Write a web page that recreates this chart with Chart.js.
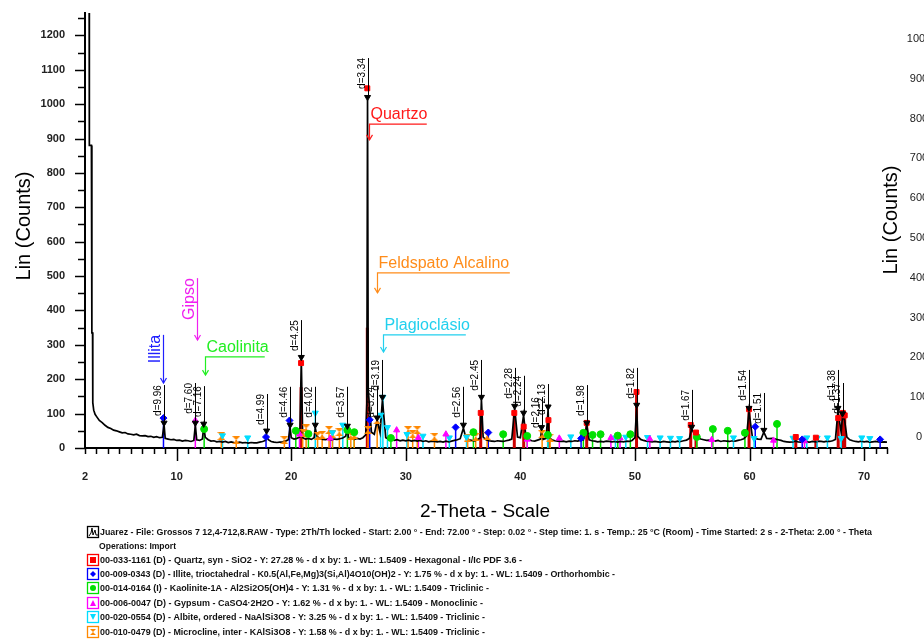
<!DOCTYPE html>
<html>
<head>
<meta charset="utf-8">
<title>DRX - Juarez</title>
<script src="https://cdn.jsdelivr.net/npm/chart.js@4.4.1/dist/chart.umd.min.js"></script>
<style>
  html, body { margin: 0; padding: 0; background: #fff; }
  #wrap { width: 924px; height: 640px; }
</style>
</head>
<body>
<div id="wrap"><canvas id="drx" width="924" height="640"></canvas></div>
<script>
const xTicks = [2, 10, 20, 30, 40, 50, 60, 70];
const rightTicks = [0, 100, 200, 300, 400, 500, 600, 700, 800, 900, 1000];

// feixe direto no início (sai do gráfico)
const spikeX = [2.0, 2.36, 2.38, 2.56, 2.6, 2.66, 2.68, 2.76, 2.88];
const spikeY = [1400, 1400, 880, 880, 335, 335, 132, 110, 98];

// fundo de 3.00 a 72.00 graus, passo 0.25
const bgStart = 3.0;
const bgStep = 0.25;
const bgCounts = [
  92, 80, 74, 66,   60, 57, 52, 50,   47, 44, 45, 41,   40, 38, 40, 36,
  35, 36, 33, 34,   31, 33, 30, 31,   28, 26, 24, 25,   22, 23, 20, 22,
  21, 19, 22, 24,   22, 26, 31, 24,   20, 21, 18, 19,   17, 19, 16, 18,
  16, 15, 17, 15,   16, 14, 16, 15,   15, 17, 19, 22,   24, 19, 17, 16,
  17, 18, 20, 24,   30, 26, 28, 32,   30, 26, 28, 25,   30, 34, 27, 25,
  24, 27, 23, 26,   25, 27, 29, 34,   30, 27, 25, 28,   26, 30, 38, 48,
  46, 40, 52, 45,   38, 30, 26, 24,   22, 24, 21, 23,   21, 23, 20, 22,
  20, 22, 19, 21,   18, 20, 19, 18,   19, 17, 20, 18,   20, 22, 24, 27,
  30, 28, 24, 22,   21, 24, 30, 32,   24, 21, 20, 19,   21, 20, 19, 21,
  23, 26, 30, 32,   30, 34, 28, 24,   21, 20, 23, 26,   25, 28, 30, 24,
  21, 20, 19, 20,   18, 20, 19, 21,   20, 22, 24, 28,   24, 21, 20, 18,
  19, 18, 20, 19,   18, 19, 17, 19,   18, 20, 19, 22,   30, 34, 25, 22,
  20, 19, 18, 19,   18, 17, 19, 18,   17, 19, 18, 20,   19, 21, 23, 28,
  32, 36, 30, 26,   24, 22, 23, 21,   20, 22, 19, 21,   20, 19, 21, 20,
  22, 24, 27, 35,   40, 32, 28, 26,   25, 30, 28, 27,   28, 26, 24, 22,
  19, 18, 17, 18,   20, 18, 17, 19,   18, 17, 19, 18,   20, 19, 18, 20,
  19, 21, 25, 35,   45, 50, 32, 24,   21, 19, 18, 20,   18, 19, 17, 18,
  19, 18, 17, 18,   17
];

// picos do difratograma
const peakX = [8.9, 11.63, 12.36, 17.85, 19.9, 20.88, 22.1, 24.9, 26.6, 26.66, 26.72, 27.5, 27.96,
  35.03, 36.6, 39.5, 40.28, 41.85, 42.42, 45.8, 50.15, 54.95, 55.33, 59.95, 61.25, 67.72, 68.12, 68.3];
const peakY = [68, 67, 62, 33, 60, 256, 58, 57, 130, 1012, 170, 80, 140,
  58, 140, 115, 95, 52, 112, 66, 118, 56, 42, 108, 46, 108, 95, 80];

// rótulos d
const dPos = [8.9, 11.63, 12.36, 17.85, 19.9, 20.88, 22.1, 24.9, 26.66, 27.5, 27.96, 35.03, 36.6,
  39.5, 40.28, 41.85, 42.42, 45.8, 50.15, 54.95, 59.95, 61.25, 67.72, 68.12];
const dText = ['d=9.96', 'd=7.60', 'd=7.16', 'd=4.99', 'd=4.46', 'd=4.25', 'd=4.02', 'd=3.57', 'd=3.34',
  'd=3.24', 'd=3.19', 'd=2.56', 'd=2.45', 'd=2.28', 'd=2.24', 'd=2.16', 'd=2.13', 'd=1.98', 'd=1.82',
  'd=1.67', 'd=1.54', 'd=1.51', 'd=1.38', 'd=1.37'];
const dPeak = [73, 73, 70, 50, 67, 264, 67, 64, 1020, 88, 148, 67, 148, 122, 102, 60, 120, 73, 125, 61, 116, 52, 116, 100];
const dTop = [183, 189, 180, 157, 178, 372, 178, 178, 1134, 178, 256, 178, 256, 233, 210, 148, 186, 183, 233, 169, 227, 160, 227, 189];

// fichas PDF (posição 2θ e altura)
const quartzPos = [20.86, 26.64, 36.54, 39.47, 40.29, 42.45, 45.79, 50.14, 54.87, 55.33, 59.96, 64.04, 65.79, 67.74, 68.14, 68.31];
const quartzInt = [247, 1046, 102, 102, 62, 81, 73, 163, 67, 45, 113, 32, 30, 87, 102, 95];
const quartzBar = [177, 350, 102, 102, 62, 81, 73, 163, 67, 45, 113, 32, 30, 87, 102, 95];

const illitePos = [8.85, 17.8, 19.85, 26.85, 34.35, 37.2, 45.3, 60.5, 64.6, 71.4];
const illiteInt = [87, 32, 80, 82, 60, 45, 28, 62, 25, 25];

const kaolPos = [12.4, 20.4, 21.5, 24.9, 25.5, 28.7, 35.9, 38.5, 40.6, 42.4, 45.5, 46.3, 47.0, 48.5, 49.6, 55.4, 56.8, 58.1, 59.6, 62.4];
const kaolInt = [55, 50, 41, 52, 46, 29, 46, 40, 35, 38, 44, 38, 40, 36, 40, 32, 55, 50, 44, 70];

const gypsPos = [11.63, 20.72, 23.4, 29.2, 31.1, 33.5, 40.6, 43.4, 47.9, 48.7, 51.3, 56.7, 62.1, 64.8];
const gypsInt = [80, 40, 28, 52, 30, 40, 25, 28, 30, 29, 26, 24, 22, 20];

const albitePos = [14.0, 16.2, 22.1, 23.6, 24.5, 27.8, 28.0, 28.4, 30.1, 31.5, 33.8, 35.3, 42.4, 44.4, 48.3, 49.2,
  51.1, 52.2, 53.1, 53.9, 58.6, 60.4, 63.8, 65.0, 65.9, 66.8, 68.0, 69.8, 70.5];
const albiteInt = [36, 30, 102, 45, 67, 96, 148, 60, 40, 35, 30, 32, 35, 33, 30, 32,
  31, 30, 29, 28, 30, 28, 29, 30, 29, 30, 28, 30, 28];

const microPos = [13.9, 15.2, 19.4, 21.0, 21.3, 22.3, 22.7, 23.3, 23.6, 24.2, 25.2, 25.5, 26.7, 27.5, 30.2, 30.6, 31.0,
  32.5, 35.4, 36.1, 37.1, 41.9, 42.6];
const microInt = [35, 23, 23, 45, 57, 35, 38, 52, 40, 46, 35, 38, 52, 81, 52, 40, 52, 32, 30, 32, 35, 40, 30];

// nomes das fases com setas
const labelText = ['Quartzo', 'Feldspato Alcalino', 'Plagioclásio', 'Caolinita', 'Gipso', 'Illita'];
const labelX = [26.77, 27.47, 27.99, 12.45, 11.75, 8.82];
const labelEndX = [31.83, 39.08, 35.24, 17.69, null, null];
const labelY = [942, 509, 329, 265, 494, 329];
const labelTip = [896, 451, 279, 212, 314, 189];

const legendLines = [
  'Juarez - File: Grossos 7 12,4-712,8.RAW - Type: 2Th/Th locked - Start: 2.00 ° - End: 72.00 ° - Step: 0.02 ° - Step time: 1. s - Temp.: 25 °C (Room) - Time Started: 2 s - 2-Theta: 2.00 ° - Theta',
  'Operations: Import',
  '00-033-1161 (D) - Quartz, syn - SiO2 - Y: 27.28 % - d x by: 1. - WL: 1.5409 - Hexagonal - I/Ic PDF 3.6 -',
  '00-009-0343 (D) - Illite, trioctahedral - K0.5(Al,Fe,Mg)3(Si,Al)4O10(OH)2 - Y: 1.75 % - d x by: 1. - WL: 1.5409 - Orthorhombic -',
  '00-014-0164 (I) - Kaolinite-1A - Al2Si2O5(OH)4 - Y: 1.31 % - d x by: 1. - WL: 1.5409 - Triclinic -',
  '00-006-0047 (D) - Gypsum - CaSO4·2H2O - Y: 1.62 % - d x by: 1. - WL: 1.5409 - Monoclinic -',
  '00-020-0554 (D) - Albite, ordered - NaAlSi3O8 - Y: 3.25 % - d x by: 1. - WL: 1.5409 - Triclinic -',
  '00-010-0479 (D) - Microcline, inter - KAlSi3O8 - Y: 1.58 % - d x by: 1. - WL: 1.5409 - Triclinic -'
];

// ---- estilos ----
const FONT = "'Liberation Sans', Arial, sans-serif";
const labelColors = ['#ff1a1a', '#ff8c1a', '#22d0ee', '#22ee22', '#f020f0', '#2020ff'];
const legendWidths = [772, 77, 422, 515, 389, 383, 385, 385];
const legendRowY = [532, 546, 560, 574, 588, 603, 617, 632];
const legendIcons = ['scan', null, 'rect', 'rectRot', 'circle', 'triangle', 'triangleDown', 'hourglass'];
const legendIconColors = ['#000', null, '#ff0000', '#0000ff', '#00e000', '#ff00ff', '#00ddff', '#ff8800'];

function hourglassImage(color) {
  const c = document.createElement('canvas');
  c.width = 8; c.height = 8;
  const g = c.getContext('2d');
  g.fillStyle = color;
  g.beginPath(); g.moveTo(0, 0); g.lineTo(8, 0); g.lineTo(4, 4); g.closePath(); g.fill();
  g.beginPath(); g.moveTo(0, 8); g.lineTo(8, 8); g.lineTo(4, 4); g.closePath(); g.fill();
  return c;
}

const phases = [
  { pos: quartzPos, top: quartzInt, bar: quartzBar, color: '#ff0000', stem: '#cc0000', stemWidth: 3, style: 'rect', rot: 0, r: 3.5 },
  { pos: illitePos, top: illiteInt, bar: illiteInt, color: '#0000ff', stem: '#0000ff', stemWidth: 1.5, style: 'rectRot', rot: 0, r: 3.5 },
  { pos: kaolPos, top: kaolInt, bar: kaolInt, color: '#00e000', stem: '#00e000', stemWidth: 1.5, style: 'circle', rot: 0, r: 3.5 },
  { pos: gypsPos, top: gypsInt, bar: gypsInt, color: '#ff00ff', stem: '#ff00ff', stemWidth: 1.5, style: 'triangle', rot: 0, r: 3.5 },
  { pos: albitePos, top: albiteInt, bar: albiteInt, color: '#00ddff', stem: '#00ddff', stemWidth: 1.5, style: 'triangle', rot: 180, r: 3.5 },
  { pos: microPos, top: microInt, bar: microInt, color: '#ff8800', stem: '#ff8800', stemWidth: 1.5, style: hourglassImage('#ff8800'), rot: 0, r: 4 }
];

// ---- monta a curva ----
const patternPoints = [];
spikeX.forEach((v, i) => patternPoints.push({ x: v, y: spikeY[i] }));
bgCounts.forEach((c, i) => {
  const xv = bgStart + i * bgStep;
  if (!peakX.some(p => Math.abs(p - xv) < 0.06)) patternPoints.push({ x: xv, y: c });
});
peakX.forEach((v, i) => patternPoints.push({ x: v, y: peakY[i] }));
patternPoints.sort((a, b) => a.x - b.x);

const datasets = [{
  label: 'Juarez',
  data: patternPoints,
  showLine: true,
  borderColor: '#000',
  borderWidth: 1.7,
  pointRadius: 0,
  tension: 0,
  order: 10
}];
phases.forEach((ph, k) => {
  datasets.push({
    label: 'fase' + k,
    data: ph.pos.map((p, i) => ({ x: p, y: ph.top[i] })),
    pointStyle: ph.style,
    rotation: ph.rot,
    pointRadius: ph.r,
    backgroundColor: ph.color,
    borderColor: ph.color,
    borderWidth: 1,
    order: 2
  });
});
datasets.push({
  label: 'd',
  data: dPos.map((p, i) => ({ x: p, y: dPeak[i] })),
  pointStyle: 'triangle',
  rotation: 180,
  pointRadius: 3.5,
  backgroundColor: '#000',
  borderColor: '#000',
  order: 1
});

function drawMarker(ctx, kind, cx, cy, r, color) {
  ctx.fillStyle = color;
  ctx.strokeStyle = color;
  ctx.beginPath();
  if (kind === 'rect') ctx.rect(cx - r, cy - r, 2 * r, 2 * r);
  else if (kind === 'rectRot') { ctx.moveTo(cx, cy - r); ctx.lineTo(cx + r, cy); ctx.lineTo(cx, cy + r); ctx.lineTo(cx - r, cy); }
  else if (kind === 'circle') ctx.arc(cx, cy, r, 0, Math.PI * 2);
  else if (kind === 'triangle') { ctx.moveTo(cx, cy - r); ctx.lineTo(cx + r, cy + r); ctx.lineTo(cx - r, cy + r); }
  else if (kind === 'triangleDown') { ctx.moveTo(cx - r, cy - r); ctx.lineTo(cx + r, cy - r); ctx.lineTo(cx, cy + r); }
  else if (kind === 'hourglass') {
    ctx.moveTo(cx - r, cy - r); ctx.lineTo(cx + r, cy - r); ctx.lineTo(cx, cy); ctx.closePath();
    ctx.moveTo(cx - r, cy + r); ctx.lineTo(cx + r, cy + r); ctx.lineTo(cx, cy);
  }
  ctx.closePath();
  ctx.fill();
}

function arrowHead(ctx, x, y) {
  ctx.beginPath();
  ctx.moveTo(x - 3, y - 5); ctx.lineTo(x, y); ctx.lineTo(x + 3, y - 5);
  ctx.stroke();
}

const drxPlugin = {
  id: 'drx',
  beforeDatasetsDraw(chart) {
    const { ctx, chartArea: a, scales: { x, y } } = chart;
    ctx.save();
    ctx.beginPath();
    ctx.rect(a.left, a.top, a.right - a.left, a.bottom - a.top);
    ctx.clip();
    phases.forEach(ph => {
      ctx.strokeStyle = ph.stem;
      ctx.lineWidth = ph.stemWidth;
      ph.pos.forEach((p, i) => {
        const px = x.getPixelForValue(p);
        ctx.beginPath();
        ctx.moveTo(px, y.getPixelForValue(0));
        ctx.lineTo(px, y.getPixelForValue(ph.bar[i]));
        ctx.stroke();
      });
    });
    ctx.restore();
  },
  afterDatasetsDraw(chart) {
    const { ctx, scales: { x, y } } = chart;
    ctx.save();
    // linhas e textos d=
    ctx.strokeStyle = '#000';
    ctx.fillStyle = '#000';
    ctx.lineWidth = 1;
    ctx.font = '10px ' + FONT;
    dPos.forEach((p, i) => {
      const px = Math.round(x.getPixelForValue(p)) + 0.5;
      const top = y.getPixelForValue(dTop[i]);
      ctx.beginPath();
      ctx.moveTo(px, y.getPixelForValue(dPeak[i]));
      ctx.lineTo(px, top);
      ctx.stroke();
      ctx.save();
      ctx.translate(px - 1.5, top);
      ctx.rotate(-Math.PI / 2);
      ctx.textAlign = 'right';
      ctx.textBaseline = 'bottom';
      ctx.fillText(dText[i], 0, 0);
      ctx.restore();
    });
    // nomes das fases
    ctx.font = '16px ' + FONT;
    ctx.lineWidth = 1.2;
    labelText.forEach((t, i) => {
      const col = labelColors[i];
      ctx.strokeStyle = col;
      ctx.fillStyle = col;
      const px = Math.round(x.getPixelForValue(labelX[i])) + 0.5;
      const py = y.getPixelForValue(labelY[i]);
      const tip = y.getPixelForValue(labelTip[i]);
      if (labelEndX[i] !== null) {
        const ex = x.getPixelForValue(labelEndX[i]);
        ctx.textAlign = 'left';
        ctx.textBaseline = 'alphabetic';
        ctx.fillText(t, px + 1, py - 5);
        ctx.beginPath();
        ctx.moveTo(ex, py); ctx.lineTo(px, py); ctx.lineTo(px, tip);
        ctx.stroke();
      } else {
        ctx.save();
        ctx.translate(px - 4, py);
        ctx.rotate(-Math.PI / 2);
        ctx.textAlign = 'right';
        ctx.textBaseline = 'alphabetic';
        ctx.fillText(t, 0, 0);
        ctx.restore();
        ctx.beginPath();
        ctx.moveTo(px, py); ctx.lineTo(px, tip);
        ctx.stroke();
      }
      arrowHead(ctx, px, tip);
    });
    ctx.restore();
  },
  afterDraw(chart) {
    const { ctx, chartArea: a, scales: { x, y, y2 } } = chart;
    ctx.save();
    ctx.strokeStyle = '#000';
    ctx.lineWidth = 1.5;
    // marcas do eixo Y
    for (let v = 0; v <= 1250; v += 50) {
      const py = Math.round(y.getPixelForValue(v)) + 0.5;
      const len = v % 100 === 0 ? 10 : 7;
      ctx.beginPath(); ctx.moveTo(a.left - len, py); ctx.lineTo(a.left, py); ctx.stroke();
    }
    // marcas do eixo X
    for (let v = 2; v <= 72; v += 1) {
      const px = Math.round(x.getPixelForValue(v)) + 0.5;
      const len = v % 10 === 0 ? 13 : 6;
      ctx.beginPath(); ctx.moveTo(px, a.bottom); ctx.lineTo(px, a.bottom + len); ctx.stroke();
    }
    // eixo da direita (só rótulos, cortados na borda)
    ctx.fillStyle = '#222';
    ctx.font = '11px ' + FONT;
    ctx.textAlign = 'center';
    ctx.textBaseline = 'middle';
    rightTicks.forEach(v => ctx.fillText(String(v), 919, y2.getPixelForValue(v)));
    // títulos dos eixos
    ctx.fillStyle = '#000';
    ctx.font = '20px ' + FONT;
    ctx.textAlign = 'center';
    [[24, 226], [891, 220]].forEach(([cx, cy]) => {
      ctx.save();
      ctx.translate(cx, cy);
      ctx.rotate(-Math.PI / 2);
      ctx.fillText('Lin (Counts)', 0, 0);
      ctx.restore();
    });
    ctx.font = '19px ' + FONT;
    ctx.fillText('2-Theta - Scale', 485, 512);
    // legenda
    ctx.font = 'bold 9.5px ' + FONT;
    ctx.textAlign = 'left';
    legendLines.forEach((t, i) => {
      const cy = legendRowY[i];
      const kind = legendIcons[i];
      if (kind) {
        const col = legendIconColors[i];
        ctx.save();
        ctx.strokeStyle = col;
        ctx.lineWidth = 1.3;
        ctx.strokeRect(87.5, cy - 5.5, 11, 11);
        if (kind === 'scan') {
          ctx.lineWidth = 1;
          ctx.beginPath();
          ctx.moveTo(89, cy + 4); ctx.lineTo(91, cy + 1); ctx.lineTo(92, cy - 4); ctx.lineTo(93, cy + 3);
          ctx.lineTo(95, cy - 2); ctx.lineTo(96, cy + 3); ctx.lineTo(98, cy + 3);
          ctx.stroke();
        } else {
          drawMarker(ctx, kind, 93, cy, 3, col);
        }
        ctx.restore();
      }
      ctx.fillStyle = '#111';
      ctx.textBaseline = 'middle';
      ctx.fillText(t, i === 1 ? 99 : 100, cy, legendWidths[i]);
    });
    ctx.restore();
  }
};

new Chart(document.getElementById('drx'), {
  type: 'scatter',
  data: { datasets },
  options: {
    responsive: false,
    devicePixelRatio: 1,
    animation: false,
    layout: { padding: { top: 13, right: 0, bottom: 0, left: 0 } },
    plugins: { legend: { display: false }, tooltip: { enabled: false } },
    scales: {
      x: {
        type: 'linear',
        min: 2,
        max: 72,
        afterBuildTicks: s => { s.ticks = xTicks.map(v => ({ value: v })); },
        afterFit: s => { s.height = 192; s.paddingLeft = 0; s.paddingRight = 0; },
        ticks: { padding: 22, autoSkip: false, maxRotation: 0, color: '#222', font: { family: FONT, size: 11, weight: 'bold' } },
        grid: { display: false, drawTicks: false },
        border: { display: true, color: '#000', width: 2 }
      },
      y: {
        min: 0,
        max: 1265,
        afterFit: s => { s.width = 85; s.paddingTop = 0; s.paddingBottom = 0; },
        ticks: {
          stepSize: 100,
          includeBounds: false,
          padding: 20,
          color: '#222',
          font: { family: FONT, size: 11, weight: 'bold' },
          callback: v => String(v)
        },
        grid: { display: false, drawTicks: false },
        border: { display: true, color: '#000', width: 2 }
      },
      y2: {
        position: 'right',
        min: -27.6,
        max: 1065,
        afterFit: s => { s.width = 37; s.paddingTop = 0; s.paddingBottom = 0; },
        ticks: { display: false },
        grid: { display: false, drawTicks: false },
        border: { display: false }
      }
    }
  },
  plugins: [drxPlugin]
});
</script>
</body>
</html>
